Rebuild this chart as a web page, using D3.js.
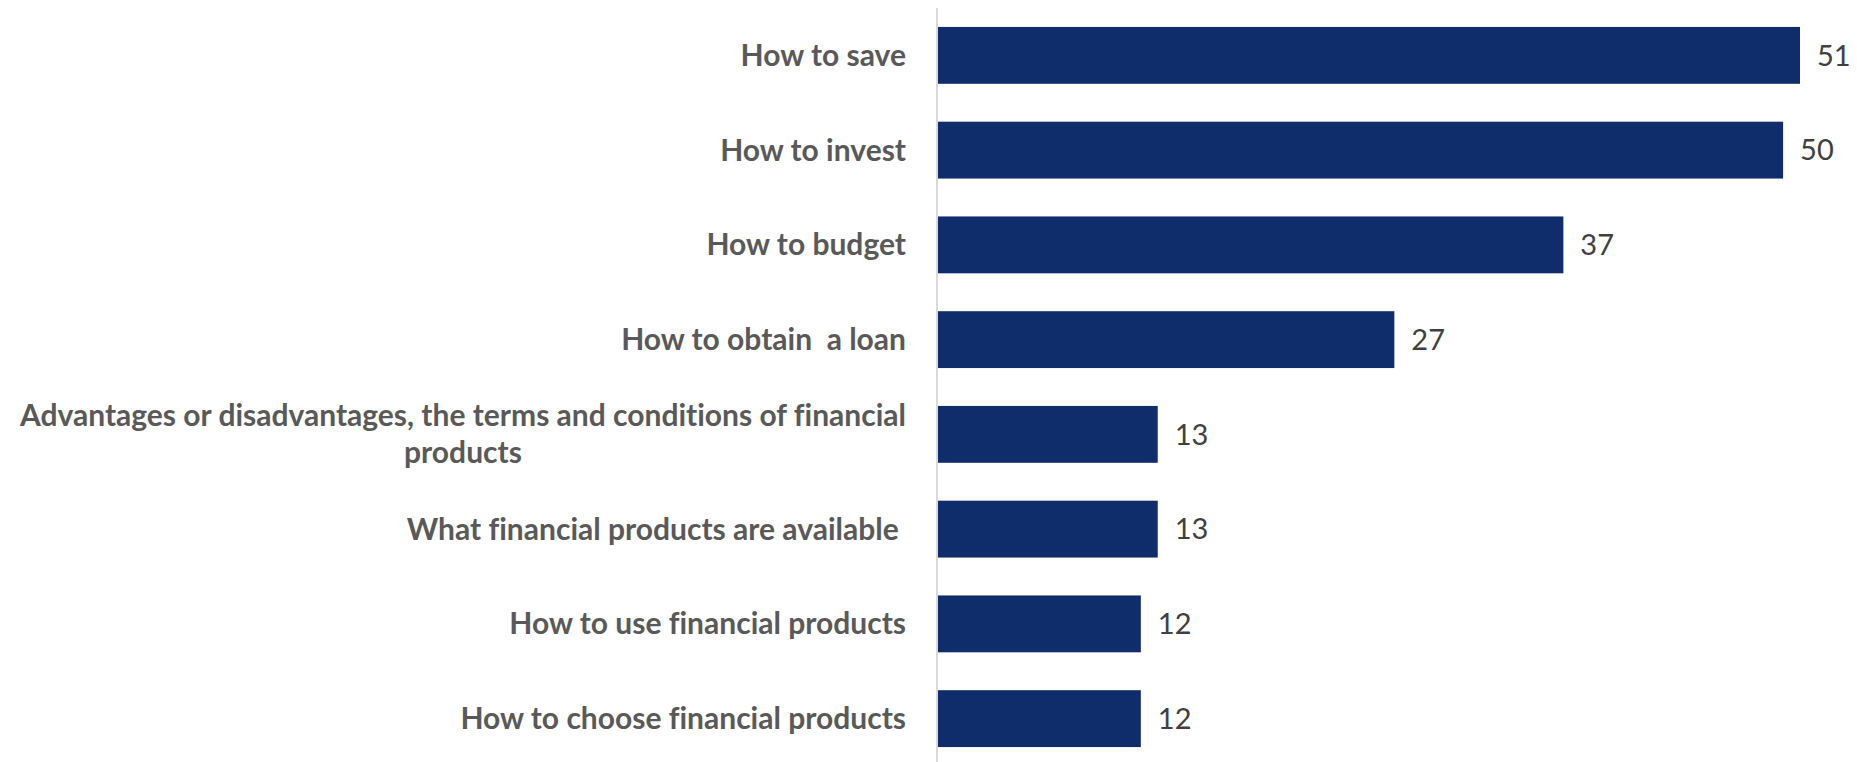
<!DOCTYPE html>
<html>
<head>
<meta charset="utf-8">
<script src="https://cdn.jsdelivr.net/npm/d3@7/dist/d3.min.js"></script>
<style>
  html, body { margin: 0; padding: 0; background: #ffffff; }
  svg { display: block; }
  text { font-variant-ligatures: none; }
</style>
</head>
<body>
<svg id="chart" width="1857" height="762"></svg>
<script>
// Topics, in display order, and the share of respondents for each
const categories = [
  "How to save",
  "How to invest",
  "How to budget",
  "How to obtain  a loan",
  "Advantages or disadvantages, the terms and conditions of financial products",
  "What financial products are available ",
  "How to use financial products",
  "How to choose financial products"
];
const values = [51, 50, 37, 27, 13, 13, 12, 12];
// Category labels broken into display lines
const labelLines = [
  ["How to save"],
  ["How to invest"],
  ["How to budget"],
  ["How to obtain\u00a0\u00a0a loan"],
  ["Advantages or disadvantages, the terms and conditions of financial", "products"],
  ["What financial products are available\u00a0"],
  ["How to use financial products"],
  ["How to choose financial products"]
];

const svg = d3.select("#chart");
const axisX = 937;

const x = d3.scaleLinear().domain([0, 51]).range([axisX + 1, 1800]);
const y = d3.scaleBand()
  .domain(categories)
  .range([8, 766])
  .paddingInner(0.4)
  .paddingOuter(0.2);

// Bars
svg.append("g")
  .selectAll("rect")
  .data(categories)
  .join("rect")
  .attr("x", x(0))
  .attr("y", d => y(d))
  .attr("width", (d, i) => x(values[i]) - x(0))
  .attr("height", y.bandwidth())
  .attr("fill", "#0f2d6b");

// Vertical category axis line
svg.append("line")
  .attr("x1", axisX).attr("x2", axisX)
  .attr("y1", 8).attr("y2", 762)
  .attr("stroke", "#d9d9d9")
  .attr("stroke-width", 2);

// Category labels, centred per label block, right edge near the axis
const lineHeight = 37;
const labels = svg.append("g")
  .attr("font-family", "Lato, 'Open Sans', sans-serif")
  .attr("font-weight", "bold")
  .attr("font-size", 30)
  .attr("fill", "#595959")
  .attr("text-anchor", "middle");

categories.forEach((c, i) => {
  const lines = labelLines[i];
  const cy = y(c) + y.bandwidth() / 2;
  const t = labels.append("text")
    .attr("y", cy - (lines.length - 1) * lineHeight / 2)
    .style("white-space", "pre");
  lines.forEach((ln, j) => {
    t.append("tspan")
      .attr("x", 0)
      .attr("dy", j === 0 ? "0.35em" : lineHeight)
      .text(ln);
  });
});

labels.selectAll("text").each(function() {
  const bb = this.getBBox();
  const shift = 906 - (bb.x + bb.width);
  d3.select(this).attr("transform", `translate(${shift},0)`);
});

// Value labels
svg.append("g")
  .attr("font-family", "Lato, 'Open Sans', sans-serif")
  .attr("font-size", 29)
  .attr("fill", "#404040")
  .selectAll("text")
  .data(categories)
  .join("text")
  .attr("x", (d, i) => x(values[i]) + 17)
  .attr("y", d => y(d) + y.bandwidth() / 2)
  .attr("dy", "0.35em")
  .text((d, i) => values[i]);
</script>
</body>
</html>
